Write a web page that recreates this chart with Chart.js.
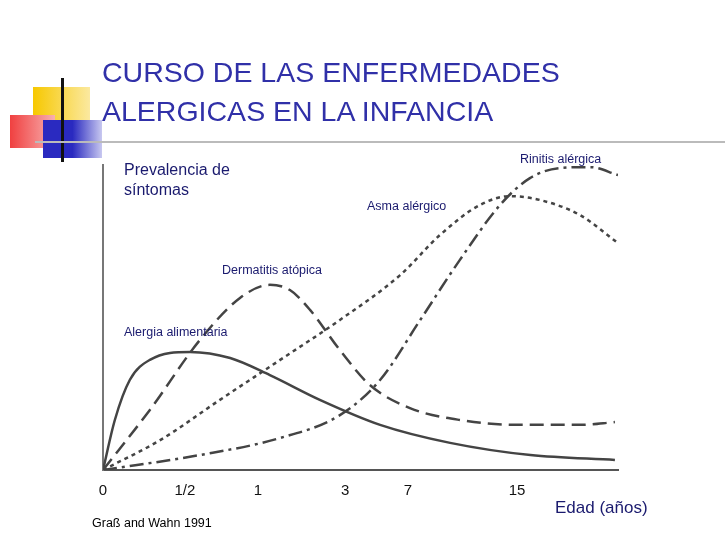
<!DOCTYPE html>
<html><head><meta charset="utf-8">
<script src="https://cdn.jsdelivr.net/npm/chart.js@4"></script>
<style>
body{margin:0;width:728px;height:546px;background:#fff;position:relative;overflow:hidden;font-family:"Liberation Sans",Arial,sans-serif}
.abs{position:absolute}
.lbl{position:absolute;color:#1a1a6e;font-size:12.5px;white-space:nowrap}
canvas{position:absolute;left:0;top:0}
</style></head><body>
<canvas id="chart" width="728" height="546"></canvas>
<div class="abs" style="left:33px;top:87px;width:57px;height:35px;background:linear-gradient(90deg,#f7c800,#fbe9a0)"></div>
<div class="abs" style="left:10px;top:115px;width:45px;height:33px;background:linear-gradient(90deg,#f04040,#f8b0b0)"></div>
<div class="abs" style="left:43px;top:120px;width:59px;height:38px;background:linear-gradient(90deg,#2a2ac0,#2a2ac0 50%,#c8c8f0)"></div>
<div class="abs" style="left:61px;top:78px;width:3px;height:84px;background:#111"></div>
<div class="abs" style="left:35px;top:141px;width:690px;height:2px;background:#bbb"></div>
<div class="abs" style="left:102px;top:53px;color:#3030a8;font-size:28.5px;line-height:39px">CURSO DE LAS ENFERMEDADES<br>ALERGICAS EN LA INFANCIA</div>
<div class="lbl" style="left:124px;top:160px;font-size:16px;line-height:20px">Prevalencia de<br>síntomas</div>
<div class="lbl" style="left:520px;top:152px">Rinitis alérgica</div>
<div class="lbl" style="left:367px;top:199px">Asma alérgico</div>
<div class="lbl" style="left:222px;top:263px">Dermatitis atópica</div>
<div class="lbl" style="left:124px;top:325px">Alergia alimentaria</div>
<div class="lbl" style="left:555px;top:498px;font-size:17px">Edad (años)</div>
<div class="lbl" style="left:92px;top:516px;color:#000;font-size:12.5px">Graß and Wahn 1991</div>
<script>
// x positions on an arbitrary 0-100 axis (age scale is non-linear)
const tickPos = [0, 15.9, 30.1, 47, 59.2, 80.4];
const tickLabels = ["0", "1/2", "1", "3", "7", "15"];

const alergiaX = [0, 2.3, 5.2, 9.1, 16.9, 24.7, 32.4, 42.1, 53.8, 67.4, 83, 99.4];
const alergiaY = [0, 16.4, 29.5, 36.1, 38.7, 36.7, 31.1, 23, 14.8, 8.9, 4.9, 3.3];

const dermatitisX = [0, 9.1, 18.8, 26.6, 32.4, 36.3, 40.2, 46, 51.8, 59.6, 69.3, 81, 92.6, 99.4];
const dermatitisY = [0, 19.7, 42.6, 56.4, 60.7, 59, 52.5, 39.3, 27.9, 20.3, 16.4, 14.8, 14.8, 15.7];

const asmaX = [0, 11.1, 22.7, 34.4, 46, 57.7, 65.4, 73.2, 79, 84.9, 92.6, 100];
const asmaY = [0, 9.8, 23, 36.1, 49.2, 63.9, 77, 86.9, 89.8, 88.5, 83.6, 74.4];

const rinitisX = [0, 18.8, 34.4, 46, 53.8, 61.6, 69.3, 77.1, 82.9, 88.7, 94.6, 100];
const rinitisY = [0, 4.9, 10.5, 18, 29.5, 49.2, 68.9, 86.9, 95.7, 99, 99.3, 96.7];

const pts = (xs, ys) => xs.map((x, i) => ({ x: x, y: ys[i] }));
const line = (xs, ys, dash) => ({
  data: pts(xs, ys), borderColor: "#444", borderWidth: 2.5, borderDash: dash,
  pointRadius: 0, tension: 0.4, cubicInterpolationMode: "monotone", fill: false
});

new Chart(document.getElementById("chart").getContext("2d"), {
  type: "line",
  data: {
    datasets: [
      line(alergiaX, alergiaY, []),
      line(dermatitisX, dermatitisY, [14, 7]),
      line(asmaX, asmaY, [4, 4]),
      line(rinitisX, rinitisY, [14, 5, 3, 5])
    ]
  },
  options: {
    responsive: false, animation: false,
    layout: { padding: { left: 95, right: 110, top: 165, bottom: 42 } },
    plugins: { legend: { display: false }, tooltip: { enabled: false } },
    scales: {
      x: {
        type: "linear", min: 0, max: 100,
        afterBuildTicks: s => { s.ticks = tickPos.map(v => ({ value: v })); },
        ticks: { callback: (v, i) => tickLabels[i], color: "#111", font: { size: 15, family: "Liberation Sans" }, maxRotation: 0, padding: 4 },
        grid: { display: false },
        border: { color: "#555", width: 2 }
      },
      y: {
        min: 0, max: 100,
        ticks: { display: false },
        grid: { display: false },
        border: { color: "#777", width: 2 }
      }
    }
  }
});
</script>
</body></html>
